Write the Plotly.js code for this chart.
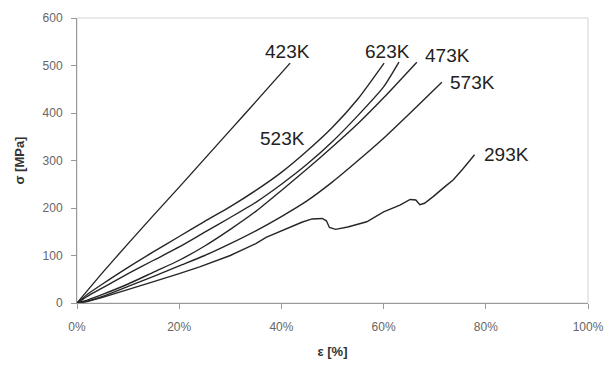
<!DOCTYPE html>
<html>
<head>
<meta charset="utf-8">
<script src="https://cdn.plot.ly/plotly-3.0.1.min.js"></script>
<style>
  html, body { margin: 0; padding: 0; background: #fff; }
  #chart { width: 610px; height: 371px; }
</style>
</head>
<body>
<div id="chart"></div>
<script>
// strain [%] and stress [MPa]
const x423 = [0, 5, 10, 15, 20, 25, 30, 35, 41.7];
const y423 = [0, 64, 125, 185, 244, 304, 364, 424, 505];

const x523 = [0, 2, 5, 10, 15, 20, 25, 30, 35, 40, 45, 50, 55, 60.1];
const y523 = [0, 18, 40, 75, 108, 140, 172, 203, 237, 275, 320, 370, 430, 505];

const x623 = [0, 2, 5, 10, 15, 20, 25, 30, 35, 40, 45, 50, 55, 60, 63];
const y623 = [0, 14, 32, 62, 90, 118, 149, 180, 212, 250, 292, 340, 395, 455, 507];

const x473 = [0, 2, 5, 10, 15, 20, 25, 30, 35, 40, 45, 50, 55, 60, 66.5];
const y473 = [0, 6, 18, 40, 65, 90, 120, 155, 193, 237, 282, 329, 378, 432, 507];

const x573 = [0, 2, 5, 10, 15, 20, 25, 30, 35, 40, 45, 50, 55, 60, 65, 71.4];
const y573 = [0, 4, 14, 35, 56, 78, 100, 125, 152, 182, 215, 255, 300, 347, 398, 465];

const x293 = [0, 2, 5, 10, 15, 20, 24, 30, 35, 37, 40, 44, 46, 48, 48.8, 49.4, 50.6, 53, 56.7, 58, 60, 63.2, 65.2, 66.3, 67.1, 68, 69.7, 72, 73.6, 75.5, 77.8];
const y293 = [0, 3, 12, 28, 45, 62, 76, 100, 125, 138, 152, 170, 177, 178, 173, 159, 155, 160, 171, 180, 192, 206, 218, 217, 207, 210, 224, 245, 259, 282, 312];

const labelText = ["423K", "623K", "473K", "573K", "523K", "293K"];
const labelX = [41.2, 60.8, 72.6, 77.4, 40.2, 84.1];
const labelY = [530, 530, 522, 465, 347, 312];

const xTickVals = [0, 20, 40, 60, 80, 100];
const yTickVals = [0, 100, 200, 300, 400, 500, 600];

const lineStyle = {color: '#262626', width: 1.4};
function curve(x, y, smooth) {
  return {
    x: x, y: y, type: 'scatter', mode: 'lines',
    line: Object.assign({}, lineStyle, smooth ? {shape: 'spline', smoothing: 0.6} : {}),
    hoverinfo: 'skip', showlegend: false
  };
}

const data = [
  curve(x423, y423, true),
  curve(x523, y523, true),
  curve(x623, y623, true),
  curve(x473, y473, true),
  curve(x573, y573, true),
  curve(x293, y293, false)
];

const annotations = labelText.map((t, i) => ({
  x: labelX[i], y: labelY[i], xref: 'x', yref: 'y',
  text: t, showarrow: false,
  font: {family: 'Liberation Sans, Arial, sans-serif', size: 19, color: '#222'}
}));

const tickFont = {family: 'Liberation Sans, Arial, sans-serif', size: 12, color: '#666'};
const titleFont = {family: 'Liberation Sans, Arial, sans-serif', size: 13, color: '#333', weight: 'bold'};

const layout = {
  width: 610, height: 371,
  margin: {l: 77, r: 22, t: 18, b: 68},
  paper_bgcolor: '#fff', plot_bgcolor: '#fff',
  font: {family: 'Liberation Sans, Arial, sans-serif'},
  xaxis: {
    range: [0, 100], tickvals: xTickVals, ticktext: xTickVals.map(v => v + '%'),
    showgrid: false, zeroline: false, showline: true, linecolor: '#999', linewidth: 1,
    ticks: 'outside', ticklen: 5, tickcolor: '#999', tickfont: tickFont,
    ticklabelstandoff: 8,
    title: {text: 'ε [%]', font: titleFont, standoff: 13}
  },
  yaxis: {
    range: [0, 600], tickvals: yTickVals,
    showgrid: false, zeroline: false, showline: true, linecolor: '#999', linewidth: 1,
    ticks: 'outside', ticklen: 5, tickcolor: '#999', tickfont: tickFont,
    ticklabelstandoff: 6,
    title: {text: 'σ [MPa]', font: titleFont, standoff: 15}
  },
  shapes: [{
    type: 'rect', xref: 'paper', yref: 'paper', x0: 0, x1: 1, y0: 0, y1: 1,
    line: {color: '#d4d4d4', width: 1}, layer: 'below'
  }],
  annotations: annotations
};

Plotly.newPlot('chart', data, layout, {displayModeBar: false, staticPlot: true});
</script>
</body>
</html>
